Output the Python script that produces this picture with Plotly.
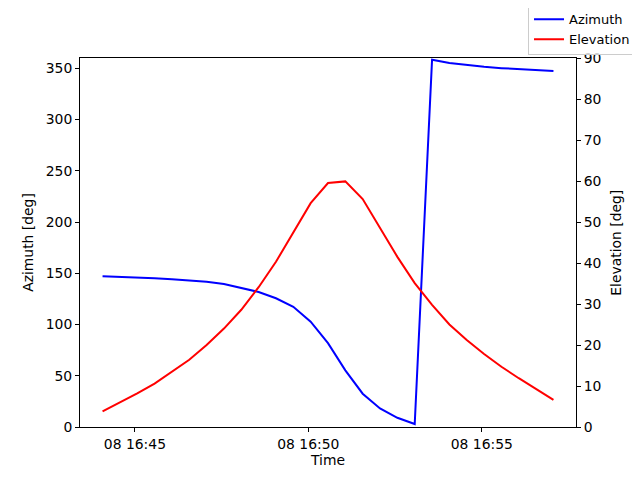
import pandas as pd
import plotly.graph_objects as go

# pass samples, every 30 s
times = pd.date_range("2024-05-08 16:44:04", periods=27, freq="30s")
azimuth = [147.0, 146.5, 145.8, 145.0, 144.1, 143.1, 141.8, 139.6, 136.0, 131.7,
           125.6, 117.3, 102.8, 81.8, 55.3, 32.5, 18.1, 9.0, 2.9, 358.3,
           355.2, 353.0, 351.4, 350.1, 349.1, 348.2, 347.3]
elevation = [3.8, 5.9, 8.2, 10.6, 13.5, 16.4, 20.0, 24.0, 28.6, 34.1,
             40.3, 47.5, 54.6, 59.5, 59.9, 55.6, 48.5, 41.5, 35.1, 29.8,
             25.0, 21.2, 17.8, 14.7, 11.9, 9.2, 6.6]

FONT = dict(family="DejaVu Sans", size=13.9, color="black")

fig = go.Figure()
fig.add_trace(go.Scatter(x=times, y=azimuth, name="Azimuth", mode="lines",
                         line=dict(color="blue", width=2), yaxis="y"))
fig.add_trace(go.Scatter(x=times, y=elevation, name="Elevation", mode="lines",
                         line=dict(color="red", width=2), yaxis="y2"))

span = times[-1] - times[0]
pad = span * 0.05

axis_common = dict(showgrid=False, zeroline=False, showline=True, linecolor="black",
                   linewidth=1, ticks="outside", ticklen=4, tickcolor="black",
                   tickfont=FONT, automargin=True)

# page body adds ~8px offset, margins compensate for it
fig.update_layout(
  width=640, height=480,
  margin=dict(l=72, r=72, t=50, b=61, autoexpand=False),
  plot_bgcolor="white", paper_bgcolor="white",
  font=FONT,
  xaxis=dict(range=[times[0] - pad, times[-1] + pad], tickformat="%d %H:%M",
             tick0="2024-05-08 16:45:00", dtick=300000, mirror=True,
             title=dict(text="Time", font=FONT, standoff=4), **axis_common),
  yaxis=dict(range=[0, 360], dtick=50,
             title=dict(text="Azimuth [deg]", font=FONT, standoff=8), **axis_common),
  yaxis2=dict(range=[0, 90], dtick=10, overlaying="y", side="right", **axis_common),
  legend=dict(xref="paper", yref="paper", x=1.121, y=1.148,
              xanchor="right", yanchor="top", bgcolor="rgba(255,255,255,0.8)",
              bordercolor="#cccccc", borderwidth=1, font=dict(FONT, size=13),
              itemwidth=30, tracegroupgap=0),
  showlegend=True,
)

# right axis title placed by hand (overlaying axis title lands inside the plot)
fig.add_annotation(text="Elevation [deg]", xref="paper", yref="paper",
                   x=1.079, y=0.5, xanchor="center", yanchor="middle",
                   textangle=-90, showarrow=False, font=FONT)

fig.write_html("out.html")
